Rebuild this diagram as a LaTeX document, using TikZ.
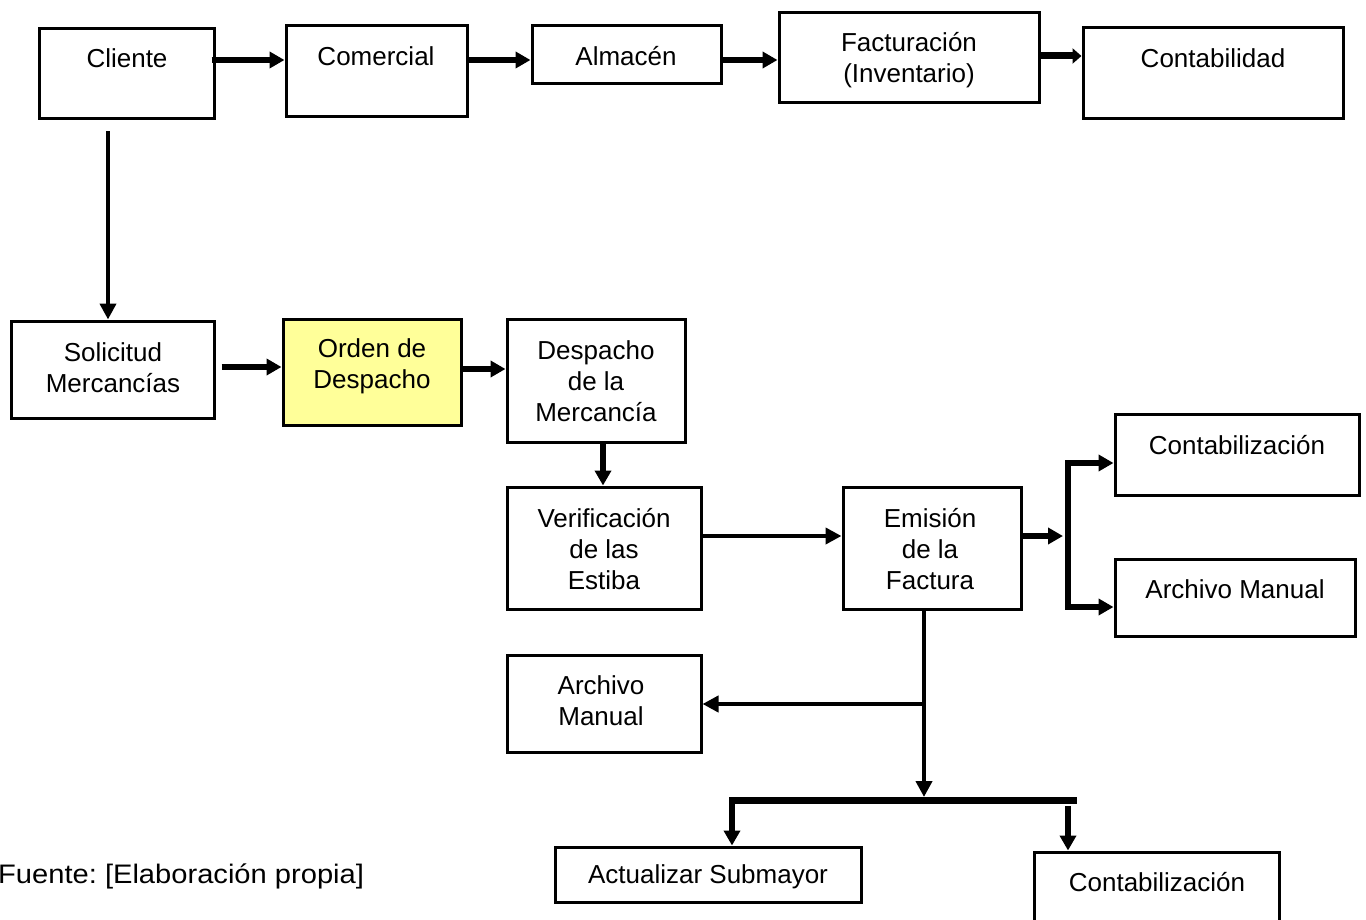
\documentclass[tikz,border=0pt]{standalone}
\usepackage{fontspec}
\setmainfont{Liberation Sans}
\usetikzlibrary{arrows.meta}
\definecolor{paleyellow}{RGB}{255,255,153}
\frenchspacing
% box from corner (#3,#4) to corner (#5,#6)
\newcommand\flowbox[6][]{%
  \node[box,#1,minimum width={#5-#3},minimum height={#6-#4}] (#2) at ({(#3+#5)/2},{(#4+#6)/2}) {};}
\tikzset{bighead/.tip={Triangle[length=15pt,width=16pt]}}
\begin{document}
\begin{tikzpicture}[x=1pt,y=-1pt,
  box/.style={draw,line width=3pt,inner sep=0pt},
  lbl/.style={inner sep=0pt,align=center,font=\fontsize{26}{31}\selectfont},
  heavy/.style={line width=6pt,-bighead},
  light/.style={line width=4pt,-{Triangle[length=16pt,width=16pt]}},
  bus/.style={line width=7pt}]
\useasboundingbox (0,0) rectangle (1366,920);
\clip (-5,0) rectangle (1366,920);

% boxes
\flowbox{cli}{39}{29}{214}{119}
\flowbox{com}{286}{26}{467}{117}
\flowbox{alm}{532}{26}{721}{84}
\flowbox{fac}{779}{13}{1039}{103}
\flowbox{con}{1083}{28}{1343}{119}
\flowbox{sol}{11}{321}{214}{418}
\flowbox[fill=paleyellow]{ord}{283}{319}{461}{425}
\flowbox{des}{507}{319}{685}{442}
\flowbox{ver}{507}{487}{701}{609}
\flowbox{emi}{843}{487}{1021}{609}
\flowbox{ctzA}{1115}{414}{1359}{495}
\flowbox{armA}{1115}{559}{1355}{636}
\flowbox{armB}{507}{655}{701}{752}
\flowbox{act}{555}{847}{861}{902}
\flowbox{ctzB}{1034}{852}{1279}{940}

% labels
\node[lbl] (cli-t) at (127,58) {Cliente};
\node[lbl] (com-t) at (376,56) {Comercial};
\node[lbl] (alm-t) at (626,56) {Almacén};
\node[lbl] (fac-t) at (909,60) {Facturación\\(Inventario)};
\node[lbl] (con-t) at (1213,58) {Contabilidad};
\node[lbl] (sol-t) at (113,368) {Solicitud\\Mercancías};
\node[lbl] (ord-t) at (372,366) {Orden de\\Despacho};
\node[lbl] (des-t) at (596,381) {Despacho\\de la\\Mercancía};
\node[lbl] (ver-t) at (604,549) {Verificación\\de las\\Estiba};
\node[lbl] (emi-t) at (930,549) {Emisión\\de la\\Factura};
\node[lbl] (ctzA-t) at (1237,445) {Contabilización};
\node[lbl] (armA-t) at (1235,589) {Archivo Manual};
\node[lbl] (armB-t) at (601,701) {Archivo\\Manual};
\node[lbl] (act-t) at (708,877) {Actualizar Submayor};
\node[lbl] (ctzB-t) at (1157,882) {Contabilización};
\node[lbl,anchor=west] (src) at (-2,876) {\scalebox{1.12}[1.03]{Fuente: [Elaboración propia]}};

% top row
\draw[heavy] (cli.east |- 0,60) ++(-4,0) -- (com.west |- 0,60);
\draw[heavy] (com.east |- 0,60) -- (alm.west |- 0,60);
\draw[heavy] (alm.east |- 0,60) -- (fac.west |- 0,60);
\draw[line width=7pt,-{Triangle[length=9pt,width=15pt]}] (fac.east |- 0,56) -- (con.west |- 0,56);

% client to request
\draw[light] (cli.south -| 108,0) ++(0,11) -- (sol.north -| 108,0);

% second row
\draw[heavy] (sol.east |- 0,367) ++(6,0) -- (ord.west |- 0,367);
\draw[heavy] (ord.east |- 0,369) -- (des.west |- 0,369);
\draw[heavy] (des.south -| 603,0) -- (ver.north -| 603,0);
\draw[light] (ver.east |- 0,536) -- (emi.west |- 0,536);

% invoice split to the right
\coordinate (brtop) at (1068,463);
\coordinate (brbot) at (1068,607);
\draw[heavy,shorten >=5pt] (emi.east |- 0,536) -- (brtop |- 0,536);
\draw[line width=6pt,bighead-bighead]
  (ctzA.west |- brtop) -- (brtop) -- (brbot) -- (armA.west |- brbot);

% invoice split downwards
\coordinate (tee) at (924,704);
\coordinate (busL) at (733,800);
\coordinate (busR) at (1077,800);
\coordinate (dropR) at (1068,806);
\draw[light,shorten >=3pt] (emi.south -| tee) -- (tee |- busL);
\draw[light] (tee) -- (armB.east |- tee);
\draw[bus] (busL) -- (busR);
\draw[heavy] ([xshift=-1pt]busL) ++(0,-3) -- (act.north -| 732,0);
\draw[heavy] (dropR) -- (ctzB.north -| dropR);
\end{tikzpicture}
\end{document}
